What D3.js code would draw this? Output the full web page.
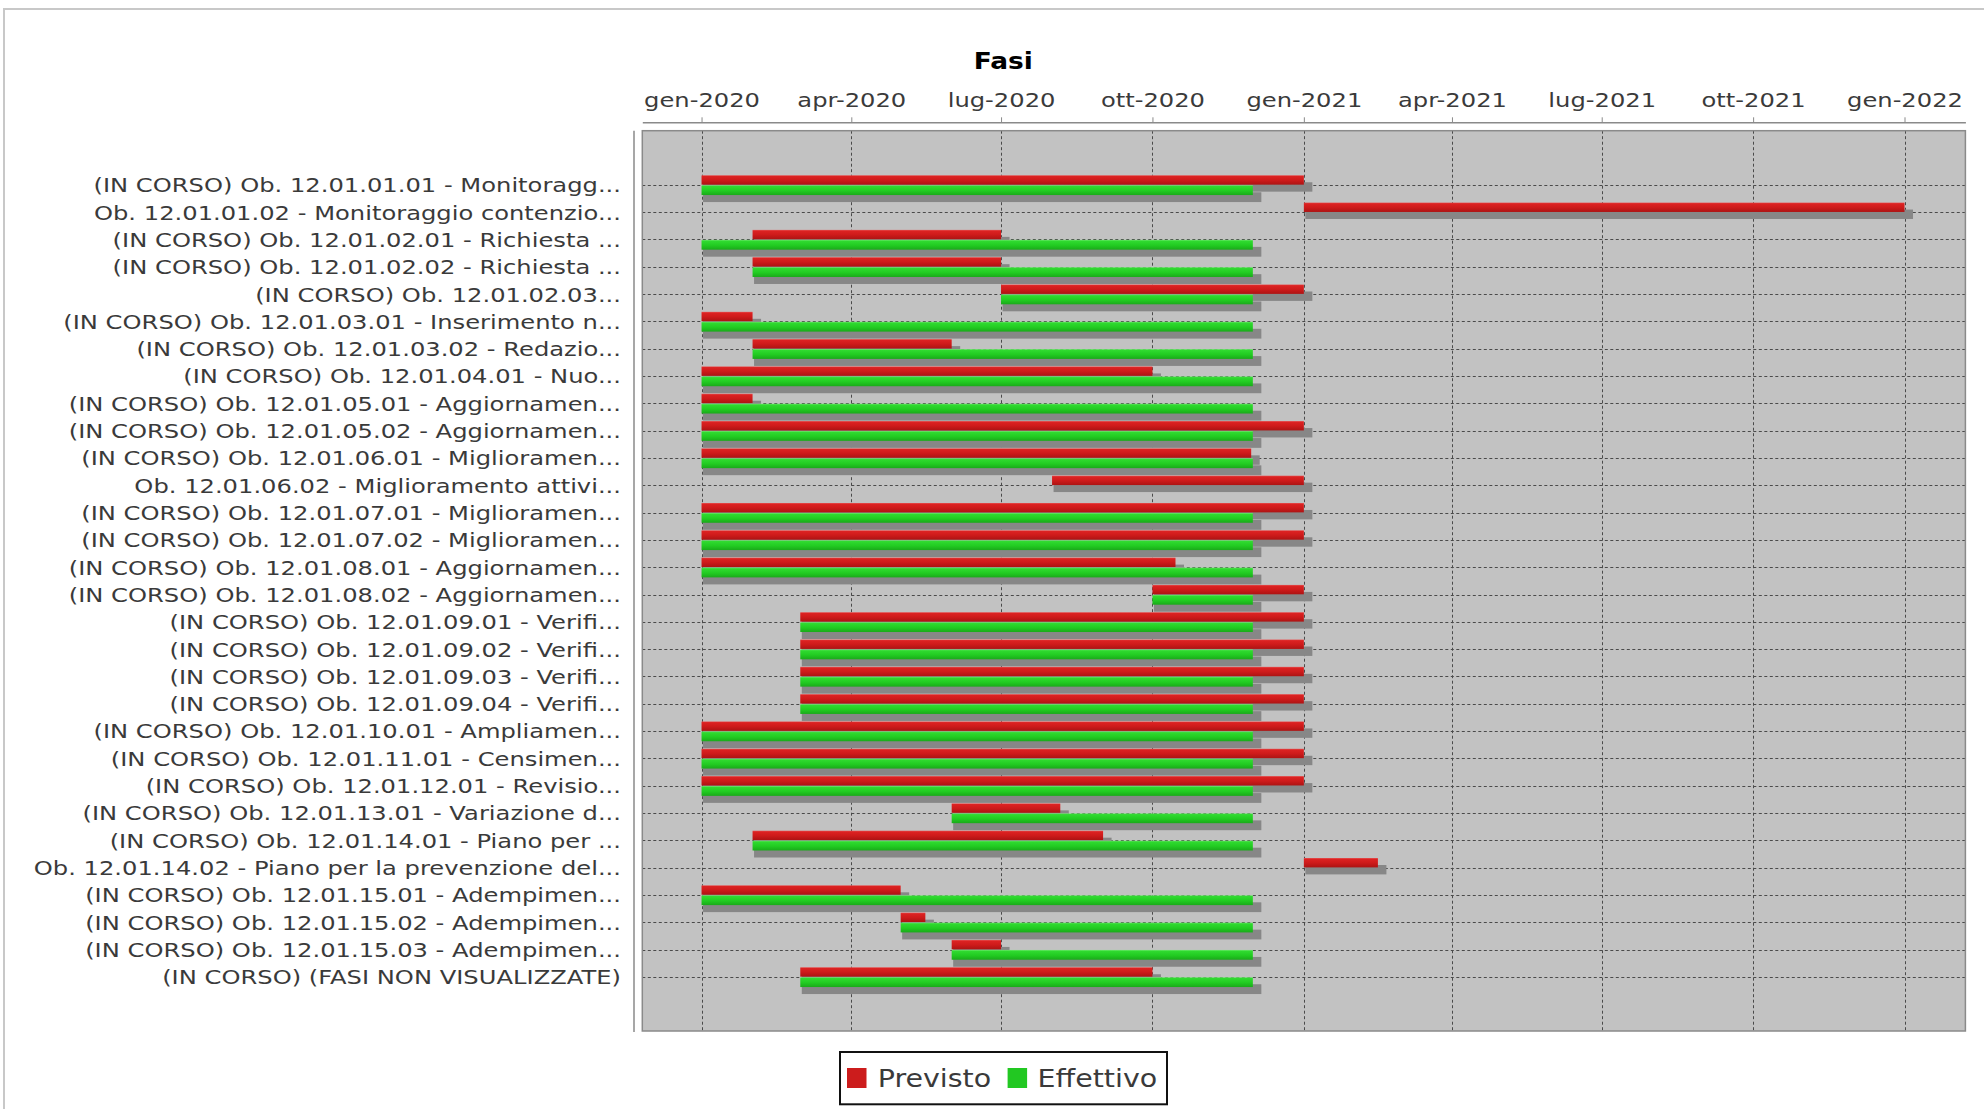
<!DOCTYPE html>
<html>
<head>
<meta charset="utf-8">
<script src="https://cdn.jsdelivr.net/npm/d3@7"></script>
<style>
  html, body { margin: 0; padding: 0; background: #ffffff; }
  svg { display: block; }
  text { font-family: "DejaVu Sans", sans-serif; }
</style>
</head>
<body>
<svg id="chart" width="1984" height="1109"></svg>
<script>
// ---------------- DATA ----------------
const chartTitle = "Fasi";
const seriesNames = ["Previsto", "Effettivo"];

const categories = [
  "(IN CORSO) Ob. 12.01.01.01 - Monitoragg...",
  "Ob. 12.01.01.02 - Monitoraggio contenzio...",
  "(IN CORSO) Ob. 12.01.02.01 - Richiesta ...",
  "(IN CORSO) Ob. 12.01.02.02 - Richiesta ...",
  "(IN CORSO) Ob. 12.01.02.03...",
  "(IN CORSO) Ob. 12.01.03.01 - Inserimento n...",
  "(IN CORSO) Ob. 12.01.03.02 - Redazio...",
  "(IN CORSO) Ob. 12.01.04.01 - Nuo...",
  "(IN CORSO) Ob. 12.01.05.01 - Aggiornamen...",
  "(IN CORSO) Ob. 12.01.05.02 - Aggiornamen...",
  "(IN CORSO) Ob. 12.01.06.01 - Miglioramen...",
  "Ob. 12.01.06.02 - Miglioramento attivi...",
  "(IN CORSO) Ob. 12.01.07.01 - Miglioramen...",
  "(IN CORSO) Ob. 12.01.07.02 - Miglioramen...",
  "(IN CORSO) Ob. 12.01.08.01 - Aggiornamen...",
  "(IN CORSO) Ob. 12.01.08.02 - Aggiornamen...",
  "(IN CORSO) Ob. 12.01.09.01 - Verifi...",
  "(IN CORSO) Ob. 12.01.09.02 - Verifi...",
  "(IN CORSO) Ob. 12.01.09.03 - Verifi...",
  "(IN CORSO) Ob. 12.01.09.04 - Verifi...",
  "(IN CORSO) Ob. 12.01.10.01 - Ampliamen...",
  "(IN CORSO) Ob. 12.01.11.01 - Censimen...",
  "(IN CORSO) Ob. 12.01.12.01 - Revisio...",
  "(IN CORSO) Ob. 12.01.13.01 - Variazione d...",
  "(IN CORSO) Ob. 12.01.14.01 - Piano per ...",
  "Ob. 12.01.14.02 - Piano per la prevenzione del...",
  "(IN CORSO) Ob. 12.01.15.01 - Adempimen...",
  "(IN CORSO) Ob. 12.01.15.02 - Adempimen...",
  "(IN CORSO) Ob. 12.01.15.03 - Adempimen...",
  "(IN CORSO) (FASI NON VISUALIZZATE)"
];

const previstoStart = [
  "2020-01-01","2021-01-01","2020-02-01","2020-02-01","2020-07-01",
  "2020-01-01","2020-02-01","2020-01-01","2020-01-01","2020-01-01",
  "2020-01-01","2020-08-01","2020-01-01","2020-01-01","2020-01-01",
  "2020-10-01","2020-03-01","2020-03-01","2020-03-01","2020-03-01",
  "2020-01-01","2020-01-01","2020-01-01","2020-06-01","2020-02-01",
  "2021-01-01","2020-01-01","2020-05-01","2020-06-01","2020-03-01"
];
const previstoEnd = [
  "2021-01-01","2022-01-01","2020-07-01","2020-07-01","2021-01-01",
  "2020-02-01","2020-06-01","2020-10-01","2020-02-01","2021-01-01",
  "2020-11-30","2021-01-01","2021-01-01","2021-01-01","2020-10-15",
  "2021-01-01","2021-01-01","2021-01-01","2021-01-01","2021-01-01",
  "2021-01-01","2021-01-01","2021-01-01","2020-08-06","2020-09-01",
  "2021-02-15","2020-05-01","2020-05-16","2020-07-01","2020-10-01"
];
const effettivoStart = [
  "2020-01-01",null,"2020-01-01","2020-02-01","2020-07-01",
  "2020-01-01","2020-02-01","2020-01-01","2020-01-01","2020-01-01",
  "2020-01-01",null,"2020-01-01","2020-01-01","2020-01-01",
  "2020-10-01","2020-03-01","2020-03-01","2020-03-01","2020-03-01",
  "2020-01-01","2020-01-01","2020-01-01","2020-06-01","2020-02-01",
  null,"2020-01-01","2020-05-01","2020-06-01","2020-03-01"
];
const effettivoEnd = [
  "2020-12-01",null,"2020-12-01","2020-12-01","2020-12-01",
  "2020-12-01","2020-12-01","2020-12-01","2020-12-01","2020-12-01",
  "2020-12-01",null,"2020-12-01","2020-12-01","2020-12-01",
  "2020-12-01","2020-12-01","2020-12-01","2020-12-01","2020-12-01",
  "2020-12-01","2020-12-01","2020-12-01","2020-12-01","2020-12-01",
  null,"2020-12-01","2020-12-01","2020-12-01","2020-12-01"
];

const tickDates  = ["2020-01-01","2020-04-01","2020-07-01","2020-10-01","2021-01-01",
                    "2021-04-01","2021-07-01","2021-10-01","2022-01-01"];
const tickLabels = ["gen-2020","apr-2020","lug-2020","ott-2020","gen-2021",
                    "apr-2021","lug-2021","ott-2021","gen-2022"];
const axisRange = ["2019-11-26","2022-02-07"];

// ---------------- LAYOUT / STYLE ----------------
const parse = d3.timeParse("%Y-%m-%d");
const plot = { left: 642.3, right: 1965.4, top: 130.7, bottom: 1031 };
const colors = { previsto: "#cc1c1c", effettivo: "#22c822" };
const textColor = "#3a3a3a";
const sx = 1.275;
const fs = 19;

const svg = d3.select("#chart");

svg.append("rect").attr("x", 4).attr("y", 9).attr("width", 2000).attr("height", 1200)
  .attr("fill", "#ffffff").attr("stroke", "#c8c8c8").attr("stroke-width", 2);

const defs = svg.append("defs");
function grad(id, stops) {
  const g = defs.append("linearGradient").attr("id", id)
    .attr("x1", 0).attr("y1", 0).attr("x2", 0).attr("y2", 1);
  stops.forEach(s => g.append("stop").attr("offset", s[0]).attr("stop-color", s[1]));
}
grad("gRed",   [["0%","#e55a5a"],["12%","#dc2222"],["50%","#cf1b1b"],["100%","#ad1313"]]);
grad("gGreen", [["0%","#78e878"],["12%","#30da30"],["55%","#22cc22"],["100%","#1aaa1a"]]);

const x = d3.scaleTime()
  .domain(axisRange.map(parse))
  .range([plot.left, plot.right]);

const y = d3.scaleBand()
  .domain(categories)
  .range([plot.top, plot.bottom])
  .paddingInner(0)
  .paddingOuter(1.483);
const yc = c => y(c) + y.bandwidth() / 2;

svg.append("rect")
  .attr("x", plot.left).attr("y", plot.top)
  .attr("width", plot.right - plot.left).attr("height", plot.bottom - plot.top)
  .attr("fill", "#c2c2c2");

const grid = svg.append("g").attr("stroke", "#4a4a4a").attr("stroke-width", 1)
  .attr("stroke-dasharray", "3,2.5");
grid.selectAll("line.v").data(tickDates).join("line").attr("class", "v")
  .attr("x1", d => Math.round(x(parse(d))) + 0.5).attr("x2", d => Math.round(x(parse(d))) + 0.5)
  .attr("y1", plot.top).attr("y2", plot.bottom);
grid.selectAll("line.h").data(categories).join("line").attr("class", "h")
  .attr("x1", plot.left).attr("x2", plot.right)
  .attr("y1", d => Math.round(yc(d)) + 0.5).attr("y2", d => Math.round(yc(d)) + 0.5);

const rows = categories.map((c, i) => ({
  cat: c,
  bars: [
    { s: "previsto", a: previstoStart[i], b: previstoEnd[i] },
    { s: "effettivo", a: effettivoStart[i], b: effettivoEnd[i] }
  ].filter(d => d.a && d.b)
}));
const barGeom = { previsto: { dy: -9.6, h: 9.4 }, effettivo: { dy: 0.4, h: 9.8 } };
const shadow = { dx0: 1.5, dx1: 8.5, dy: 7 };

const allBars = rows.flatMap(r => r.bars.map(b => ({ ...b, cat: r.cat })));

svg.append("g").selectAll("rect").data(allBars).join("rect")
  .attr("x", d => x(parse(d.a)) + shadow.dx0)
  .attr("y", d => yc(d.cat) + barGeom[d.s].dy + shadow.dy)
  .attr("width", d => x(parse(d.b)) - x(parse(d.a)) + shadow.dx1 - shadow.dx0)
  .attr("height", d => barGeom[d.s].h)
  .attr("fill", "#878787");

svg.append("g").selectAll("rect").data(allBars).join("rect")
  .attr("x", d => x(parse(d.a)))
  .attr("y", d => yc(d.cat) + barGeom[d.s].dy)
  .attr("width", d => x(parse(d.b)) - x(parse(d.a)))
  .attr("height", d => barGeom[d.s].h)
  .attr("fill", d => d.s === "previsto" ? "url(#gRed)" : "url(#gGreen)");

svg.append("rect")
  .attr("x", plot.left).attr("y", plot.top)
  .attr("width", plot.right - plot.left).attr("height", plot.bottom - plot.top)
  .attr("fill", "none").attr("stroke", "#8a8a8a").attr("stroke-width", 1.5);

const xAxis = d3.axisTop(x)
  .tickValues(tickDates.map(parse))
  .tickFormat((d, i) => tickLabels[i])
  .tickSize(5).tickSizeOuter(0);
const gx = svg.append("g").attr("transform", `translate(0,122.3)`).call(xAxis);
gx.select(".domain").attr("stroke", "#8a8a8a").attr("stroke-width", 1.5);
gx.selectAll(".tick line").attr("stroke", "#8a8a8a");
gx.selectAll(".tick text")
  .attr("y", -15.6).attr("dy", null)
  .attr("font-size", fs).attr("fill", textColor)
  .attr("font-family", "DejaVu Sans")
  .attr("transform", `scale(${sx},1)`);

const yAxis = d3.axisLeft(y).tickSize(0).tickPadding(0);
const gy = svg.append("g").attr("transform", "translate(621,0)").call(yAxis);
gy.select(".domain").remove();
gy.selectAll(".tick text")
  .attr("x", 0).attr("y", 7.4).attr("dy", null)
  .attr("font-size", fs).attr("fill", textColor)
  .attr("font-family", "DejaVu Sans")
  .attr("text-anchor", "end")
  .attr("transform", `scale(${sx},1)`);
svg.append("line").attr("x1", 634).attr("x2", 634).attr("y1", plot.top).attr("y2", plot.bottom + 1)
  .attr("stroke", "#8a8a8a").attr("stroke-width", 1.5);

svg.append("g").attr("transform", "translate(1003.3,69.3) scale(1.15,1)")
  .append("text").attr("text-anchor", "middle")
  .attr("font-size", 23).attr("font-weight", "bold").attr("fill", "#000")
  .text(chartTitle);

const legend = svg.append("g");
legend.append("rect").attr("x", 840).attr("y", 1052).attr("width", 327).attr("height", 52.3)
  .attr("fill", "#fff").attr("stroke", "#111").attr("stroke-width", 2);
const legItems = [
  { name: seriesNames[0], color: colors.previsto, sqx: 847, tx: 877.7 },
  { name: seriesNames[1], color: colors.effettivo, sqx: 1007.6, tx: 1037.5 }
];
legend.selectAll("rect.sq").data(legItems).join("rect").attr("class", "sq")
  .attr("x", d => d.sqx).attr("y", 1068).attr("width", 19.5).attr("height", 20)
  .attr("fill", d => d.color);
legend.selectAll("g.lt").data(legItems).join("g").attr("class", "lt")
  .attr("transform", d => `translate(${d.tx},1087.3) scale(1.14,1)`)
  .append("text").attr("font-size", 25).attr("fill", textColor)
  .text(d => d.name);
</script>
</body>
</html>
